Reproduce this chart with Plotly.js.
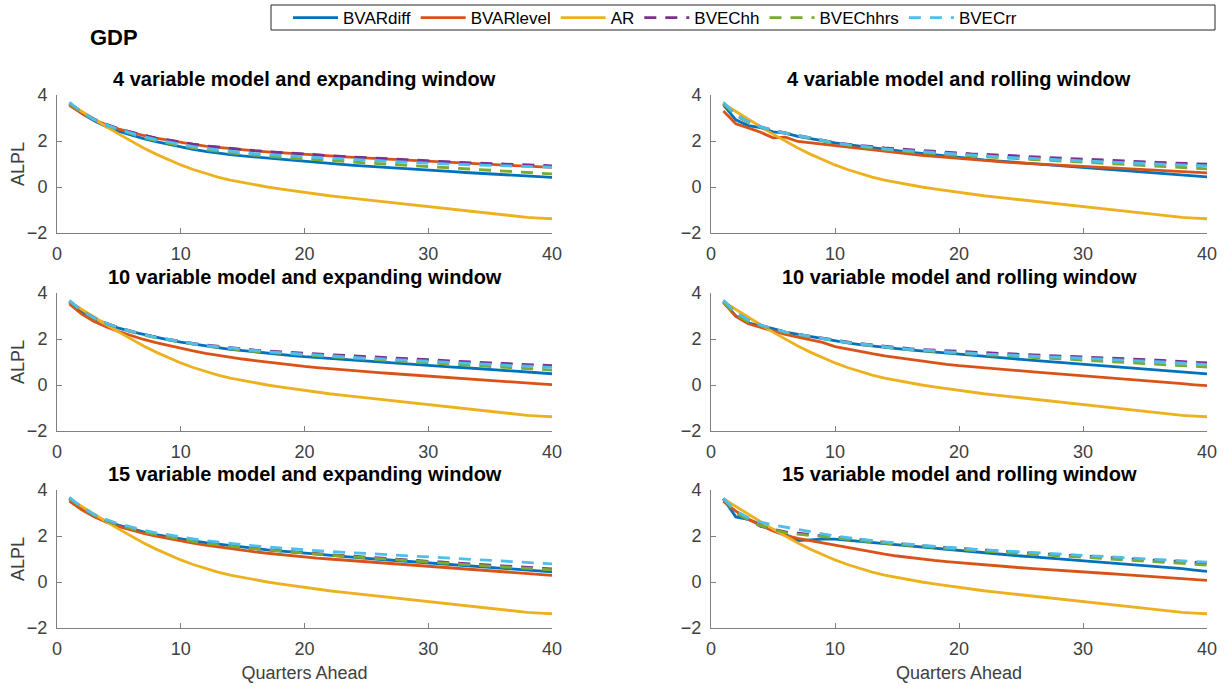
<!DOCTYPE html>
<html>
<head>
<meta charset="utf-8">
<script src="https://cdn.plot.ly/plotly-3.0.1.min.js"></script>
<style>html,body{margin:0;padding:0;background:#fff;}#chart{width:1227px;height:688px;}</style>
</head>
<body>
<div id="chart"></div>
<script>
// ---------- data ----------
const quarters = [1,2,3,4,5,6,7,8,9,10,11,12,13,14,15,16,17,18,19,20,21,22,23,24,25,26,27,28,29,30,31,32,33,34,35,36,37,38,39,40];
const seriesNames = ["BVARdiff","BVARlevel","AR","BVEChh","BVEChhrs","BVECrr"];
const panelTitles = ["4 variable model and expanding window","4 variable model and rolling window",
                     "10 variable model and expanding window","10 variable model and rolling window",
                     "15 variable model and expanding window","15 variable model and rolling window"];
const xTicks = [0,10,20,30,40];
const yTicks = [-2,0,2,4];

// AR benchmark (same in every panel)
const ar = [3.62,3.28,2.95,2.62,2.30,1.99,1.70,1.43,1.18,0.96,0.76,0.58,0.43,0.30,0.19,0.09,0.00,-0.08,-0.16,-0.24,-0.31,-0.38,-0.44,-0.50,-0.56,-0.62,-0.68,-0.74,-0.80,-0.86,-0.92,-0.98,-1.04,-1.10,-1.16,-1.22,-1.27,-1.32,-1.35,-1.38];

// Panel 1: 4 variable, expanding
const p1_bvardiff = [3.60,3.20,2.88,2.62,2.42,2.25,2.10,1.97,1.85,1.74,1.64,1.55,1.47,1.41,1.35,1.30,1.25,1.20,1.15,1.10,1.06,1.02,0.98,0.94,0.91,0.87,0.84,0.80,0.77,0.73,0.70,0.67,0.63,0.60,0.57,0.54,0.51,0.48,0.45,0.42];
const p1_bvarlevel = [3.55,3.20,2.92,2.70,2.52,2.37,2.24,2.12,2.02,1.93,1.85,1.78,1.72,1.66,1.61,1.57,1.53,1.49,1.45,1.41,1.38,1.35,1.32,1.29,1.26,1.23,1.20,1.17,1.14,1.11,1.09,1.06,1.04,1.01,0.99,0.96,0.93,0.91,0.88,0.85];
const p1_bvechh = [3.65,3.25,2.95,2.72,2.53,2.38,2.25,2.13,2.03,1.94,1.86,1.79,1.73,1.67,1.62,1.58,1.54,1.50,1.46,1.42,1.39,1.36,1.33,1.30,1.27,1.24,1.21,1.18,1.16,1.13,1.11,1.08,1.06,1.04,1.02,1.00,0.98,0.96,0.94,0.92];
const p1_bvechhrs = [3.65,3.24,2.92,2.68,2.48,2.30,2.15,2.02,1.90,1.79,1.70,1.62,1.55,1.48,1.43,1.38,1.33,1.29,1.25,1.22,1.18,1.15,1.11,1.08,1.05,1.02,0.99,0.96,0.93,0.90,0.87,0.84,0.81,0.78,0.74,0.71,0.67,0.64,0.60,0.57];
const p1_bvecrr = [3.68,3.26,2.94,2.70,2.50,2.33,2.19,2.06,1.95,1.85,1.76,1.68,1.61,1.55,1.50,1.45,1.41,1.37,1.34,1.31,1.28,1.25,1.22,1.19,1.16,1.13,1.11,1.08,1.06,1.03,1.01,0.99,0.97,0.95,0.93,0.92,0.90,0.89,0.87,0.86];

// Panel 2: 4 variable, rolling
const p2_bvardiff = [3.57,2.92,2.67,2.58,2.40,2.34,2.20,2.10,2.00,1.92,1.84,1.77,1.70,1.64,1.58,1.52,1.46,1.40,1.34,1.28,1.23,1.18,1.14,1.10,1.06,1.02,0.98,0.94,0.90,0.86,0.82,0.78,0.74,0.70,0.66,0.62,0.58,0.54,0.49,0.44];
const p2_bvarlevel = [3.30,2.75,2.57,2.38,2.14,2.17,1.98,1.92,1.85,1.78,1.71,1.65,1.59,1.53,1.48,1.43,1.38,1.33,1.28,1.23,1.19,1.15,1.11,1.07,1.04,1.01,0.97,0.94,0.91,0.88,0.85,0.82,0.79,0.76,0.73,0.70,0.67,0.65,0.63,0.61];
const p2_bvechh = [3.64,3.12,2.84,2.62,2.46,2.35,2.25,2.13,2.02,1.93,1.86,1.80,1.75,1.70,1.66,1.62,1.58,1.54,1.51,1.47,1.44,1.42,1.39,1.37,1.34,1.32,1.29,1.27,1.24,1.21,1.19,1.16,1.14,1.11,1.09,1.07,1.05,1.03,1.01,0.99];
const p2_bvechhrs = [3.62,3.10,2.82,2.60,2.44,2.33,2.23,2.11,2.00,1.90,1.82,1.75,1.69,1.63,1.58,1.53,1.49,1.45,1.41,1.37,1.34,1.30,1.27,1.24,1.21,1.18,1.15,1.12,1.10,1.07,1.04,1.01,0.99,0.96,0.93,0.90,0.87,0.85,0.82,0.79];
const p2_bvecrr = [3.68,3.14,2.85,2.62,2.45,2.34,2.24,2.12,2.01,1.92,1.84,1.77,1.71,1.66,1.61,1.57,1.53,1.49,1.45,1.41,1.38,1.35,1.32,1.29,1.26,1.23,1.21,1.18,1.16,1.14,1.11,1.09,1.06,1.04,1.02,1.00,0.98,0.96,0.94,0.92];

// Panel 3: 10 variable, expanding
const p3_bvardiff = [3.60,3.18,2.88,2.66,2.47,2.32,2.19,2.07,1.96,1.86,1.77,1.69,1.62,1.55,1.49,1.43,1.38,1.33,1.28,1.23,1.19,1.15,1.11,1.07,1.03,0.99,0.96,0.92,0.89,0.85,0.82,0.78,0.75,0.71,0.68,0.64,0.60,0.57,0.53,0.49];
const p3_bvarlevel = [3.52,3.08,2.76,2.52,2.32,2.14,1.98,1.84,1.71,1.59,1.48,1.38,1.29,1.21,1.13,1.06,0.99,0.93,0.87,0.81,0.76,0.71,0.66,0.62,0.58,0.54,0.50,0.46,0.43,0.39,0.35,0.31,0.27,0.23,0.19,0.15,0.12,0.08,0.05,0.02];
const p3_bvechh = [3.65,3.22,2.92,2.68,2.49,2.34,2.20,2.08,1.98,1.89,1.81,1.74,1.68,1.62,1.57,1.52,1.48,1.44,1.41,1.38,1.35,1.32,1.29,1.26,1.23,1.20,1.18,1.15,1.12,1.09,1.07,1.04,1.01,0.99,0.96,0.94,0.91,0.89,0.86,0.84];
const p3_bvechhrs = [3.65,3.21,2.90,2.66,2.47,2.31,2.17,2.05,1.95,1.86,1.78,1.70,1.63,1.57,1.51,1.46,1.42,1.37,1.33,1.29,1.26,1.22,1.19,1.16,1.12,1.09,1.06,1.03,1.00,0.97,0.94,0.91,0.88,0.85,0.82,0.79,0.75,0.72,0.68,0.65];
const p3_bvecrr = [3.68,3.23,2.92,2.68,2.49,2.33,2.19,2.07,1.97,1.88,1.80,1.72,1.66,1.60,1.54,1.49,1.45,1.41,1.37,1.33,1.30,1.26,1.23,1.20,1.17,1.14,1.11,1.08,1.06,1.03,1.00,0.97,0.95,0.92,0.89,0.87,0.84,0.82,0.79,0.77];

// Panel 4: 10 variable, rolling
const p4_bvardiff = [3.62,3.00,2.70,2.58,2.45,2.30,2.20,2.10,2.00,1.91,1.83,1.76,1.69,1.63,1.58,1.53,1.48,1.43,1.38,1.33,1.28,1.23,1.19,1.15,1.11,1.07,1.03,0.99,0.95,0.91,0.87,0.83,0.79,0.75,0.71,0.67,0.63,0.58,0.53,0.48];
const p4_bvarlevel = [3.58,2.98,2.66,2.50,2.34,2.20,2.08,1.96,1.85,1.67,1.56,1.46,1.36,1.27,1.19,1.11,1.04,0.97,0.90,0.84,0.79,0.74,0.69,0.65,0.61,0.57,0.53,0.49,0.45,0.41,0.37,0.33,0.29,0.25,0.21,0.16,0.11,0.06,0.01,-0.03];
const p4_bvechh = [3.66,3.15,2.82,2.60,2.45,2.30,2.20,2.11,2.03,1.95,1.87,1.80,1.74,1.68,1.63,1.58,1.54,1.51,1.48,1.45,1.42,1.40,1.37,1.35,1.33,1.31,1.29,1.27,1.25,1.23,1.21,1.19,1.16,1.14,1.11,1.08,1.05,1.02,0.99,0.96];
const p4_bvechhrs = [3.60,3.05,2.75,2.58,2.43,2.29,2.19,2.09,2.00,1.92,1.84,1.77,1.70,1.64,1.59,1.54,1.49,1.45,1.42,1.38,1.35,1.32,1.29,1.26,1.23,1.20,1.18,1.15,1.13,1.10,1.07,1.04,1.01,0.98,0.95,0.92,0.88,0.85,0.82,0.78];
const p4_bvecrr = [3.68,3.16,2.83,2.61,2.45,2.30,2.20,2.10,2.01,1.93,1.85,1.78,1.71,1.65,1.60,1.55,1.51,1.47,1.44,1.41,1.38,1.35,1.32,1.30,1.27,1.25,1.23,1.21,1.19,1.17,1.14,1.12,1.09,1.07,1.04,1.01,0.98,0.95,0.92,0.89];

// Panel 5: 15 variable, expanding
const p5_bvardiff = [3.60,3.20,2.88,2.64,2.46,2.31,2.18,2.06,1.96,1.87,1.79,1.71,1.64,1.58,1.52,1.46,1.40,1.35,1.30,1.25,1.20,1.15,1.11,1.07,1.03,0.99,0.95,0.91,0.87,0.83,0.80,0.76,0.72,0.68,0.64,0.60,0.56,0.52,0.48,0.44];
const p5_bvarlevel = [3.52,3.14,2.84,2.60,2.41,2.25,2.11,1.99,1.88,1.78,1.69,1.60,1.52,1.44,1.37,1.31,1.25,1.19,1.13,1.08,1.04,1.00,0.96,0.92,0.88,0.84,0.80,0.76,0.72,0.68,0.64,0.60,0.56,0.52,0.48,0.43,0.39,0.35,0.32,0.29];
const p5_bvechh = [3.65,3.22,2.90,2.66,2.47,2.32,2.19,2.07,1.96,1.86,1.77,1.69,1.62,1.56,1.50,1.45,1.40,1.35,1.31,1.27,1.23,1.19,1.15,1.11,1.08,1.04,1.01,0.97,0.94,0.90,0.87,0.83,0.80,0.76,0.73,0.70,0.67,0.63,0.60,0.57];
const p5_bvechhrs = [3.65,3.22,2.90,2.66,2.47,2.32,2.18,2.06,1.95,1.85,1.76,1.68,1.61,1.55,1.49,1.44,1.39,1.34,1.29,1.25,1.21,1.17,1.13,1.09,1.05,1.01,0.98,0.94,0.90,0.86,0.83,0.79,0.76,0.72,0.69,0.65,0.62,0.59,0.56,0.53];
const p5_bvecrr = [3.68,3.25,2.94,2.71,2.53,2.38,2.25,2.14,2.04,1.95,1.87,1.80,1.73,1.67,1.62,1.57,1.52,1.48,1.44,1.40,1.36,1.33,1.29,1.26,1.22,1.19,1.16,1.13,1.10,1.07,1.04,1.01,0.98,0.95,0.92,0.89,0.86,0.84,0.81,0.79];

// Panel 6: 15 variable, rolling
const p6_bvardiff = [3.62,2.83,2.72,2.50,2.28,2.08,1.80,1.84,1.86,1.86,1.81,1.76,1.71,1.66,1.61,1.56,1.51,1.46,1.41,1.35,1.30,1.26,1.21,1.17,1.13,1.09,1.05,1.01,0.97,0.92,0.88,0.84,0.80,0.76,0.72,0.68,0.63,0.58,0.52,0.46];
const p6_bvarlevel = [3.50,3.08,2.74,2.46,2.22,2.03,1.90,1.80,1.69,1.58,1.48,1.39,1.30,1.21,1.13,1.06,1.00,0.94,0.89,0.84,0.79,0.74,0.70,0.66,0.62,0.58,0.55,0.51,0.48,0.44,0.41,0.37,0.33,0.29,0.25,0.21,0.17,0.13,0.10,0.07];
const p6_bvechh = [3.62,3.00,2.72,2.42,2.30,2.18,2.12,2.05,2.00,1.95,1.89,1.83,1.77,1.72,1.67,1.62,1.57,1.53,1.49,1.45,1.41,1.38,1.34,1.31,1.28,1.25,1.22,1.19,1.16,1.13,1.10,1.07,1.04,1.01,0.98,0.95,0.92,0.89,0.86,0.82];
const p6_bvechhrs = [3.62,3.00,2.70,2.45,2.28,2.15,2.08,2.02,1.97,1.92,1.86,1.80,1.74,1.69,1.64,1.59,1.54,1.50,1.46,1.42,1.38,1.34,1.31,1.27,1.24,1.21,1.17,1.14,1.11,1.08,1.05,1.02,0.99,0.96,0.92,0.89,0.85,0.81,0.77,0.73];
const p6_bvecrr = [3.64,3.10,2.80,2.60,2.48,2.38,2.28,2.18,2.08,2.00,1.93,1.86,1.80,1.74,1.69,1.64,1.59,1.55,1.51,1.47,1.43,1.40,1.36,1.33,1.30,1.27,1.24,1.21,1.18,1.15,1.12,1.09,1.06,1.03,1.00,0.97,0.94,0.91,0.88,0.86];

const panels = [
  [p1_bvardiff,p1_bvarlevel,ar,p1_bvechh,p1_bvechhrs,p1_bvecrr],
  [p2_bvardiff,p2_bvarlevel,ar,p2_bvechh,p2_bvechhrs,p2_bvecrr],
  [p3_bvardiff,p3_bvarlevel,ar,p3_bvechh,p3_bvechhrs,p3_bvecrr],
  [p4_bvardiff,p4_bvarlevel,ar,p4_bvechh,p4_bvechhrs,p4_bvecrr],
  [p5_bvardiff,p5_bvarlevel,ar,p5_bvechh,p5_bvechhrs,p5_bvecrr],
  [p6_bvardiff,p6_bvarlevel,ar,p6_bvechh,p6_bvechhrs,p6_bvecrr]
];

// ---------- styling ----------
const colors = ["#0072BD","#D95319","#EDB120","#7E2F8E","#77AC30","#4DBEEE"];
const dashes = ["solid","solid","solid","12px,9px","12px,9px","12px,9px"];
const W = 1227, H = 688;
const xDomLeft = [57/W, 552/W], xDomRight = [711/W, 1207/W];
const yDoms = [[1-233/H, 1-95/H],[1-431/H, 1-293/H],[1-628/H, 1-490/H]];
const FONT = "Liberation Sans, Arial, Helvetica, sans-serif";
const TICKC = "#404040";

const traces = [];
panels.forEach((series, p) => {
  const ax = p === 0 ? "" : String(p+1);
  series.forEach((vals, s) => {
    traces.push({
      type: "scatter", mode: "lines",
      x: quarters, y: vals, name: seriesNames[s],
      xaxis: "x"+ax, yaxis: "y"+ax,
      line: {color: colors[s], width: 2.8, dash: dashes[s]},
      showlegend: p === 0, legendrank: s+1,
      hoverinfo: "skip"
    });
  });
});

const layout = {
  width: W, height: H,
  margin: {l:0, r:0, t:0, b:0},
  paper_bgcolor: "#fff", plot_bgcolor: "#fff",
  font: {family: FONT, size: 17, color: "#262626"},
  showlegend: true,
  legend: {
    orientation: "h", x: 288/W, y: 1.0, xanchor: "left", yanchor: "top",
    borderwidth: 0, bgcolor: "rgba(0,0,0,0)",
    font: {family: FONT, size: 17, color: "#000"},
    traceorder: "normal", itemwidth: 45
  },
  shapes: [
    {type: "rect", xref: "paper", yref: "paper", x0: 271/W, x1: 1215/W, y0: 1-30/H, y1: 1-5/H,
     line: {color: "#262626", width: 1}, fillcolor: "rgba(0,0,0,0)", layer: "below"}
  ],
  annotations: [
    {text: "GDP", x: 88/W, y: 1-38/H, xref: "paper", yref: "paper", xanchor: "left", yanchor: "middle",
     showarrow: false, font: {family: FONT, size: 22, color: "#000", weight: "bold"}}
  ]
};

for (let p = 0; p < 6; p++) {
  const ax = p === 0 ? "" : String(p+1);
  const col = p % 2, row = Math.floor(p/2);
  const xd = col === 0 ? xDomLeft : xDomRight;
  const yd = yDoms[row];
  layout["xaxis"+ax] = {
    domain: xd, range: [0,40], tickvals: xTicks, ticks: "inside", ticklen: 5,
    tickcolor: "#808080", showline: true, linecolor: "#808080", linewidth: 1,
    showgrid: false, zeroline: false, anchor: "y"+ax, ticklabelstandoff: 4,
    tickfont: {family: FONT, size: 18, color: TICKC}, fixedrange: true,
    title: row === 2 ? {text: "Quarters Ahead", standoff: 8, font: {family: FONT, size: 18, color: TICKC}} : {text: ""}
  };
  layout["yaxis"+ax] = {
    domain: yd, range: [-2,4], tickvals: yTicks, ticks: "inside", ticklen: 5,
    tickcolor: "#808080", showline: true, linecolor: "#808080", linewidth: 1,
    showgrid: false, zeroline: false, anchor: "x"+ax, ticklabelstandoff: 5,
    tickfont: {family: FONT, size: 18, color: TICKC}, fixedrange: true,
    title: {text: ""}
  };
  layout.annotations.push({
    text: panelTitles[p], x: (xd[0]+xd[1])/2, y: yd[1] + 16/H, xref: "paper", yref: "paper",
    xanchor: "center", yanchor: "middle", showarrow: false,
    font: {family: FONT, size: 20, color: "#000", weight: "bold"}
  });
  if (col === 0) {
    layout.annotations.push({
      text: "ALPL", x: 18/W, y: (yd[0]+yd[1])/2, xref: "paper", yref: "paper",
      xanchor: "center", yanchor: "middle", textangle: -90, showarrow: false,
      font: {family: FONT, size: 18, color: TICKC}
    });
  }
}

Plotly.newPlot("chart", traces, layout, {displayModeBar: false, staticPlot: true});
</script>
</body>
</html>
